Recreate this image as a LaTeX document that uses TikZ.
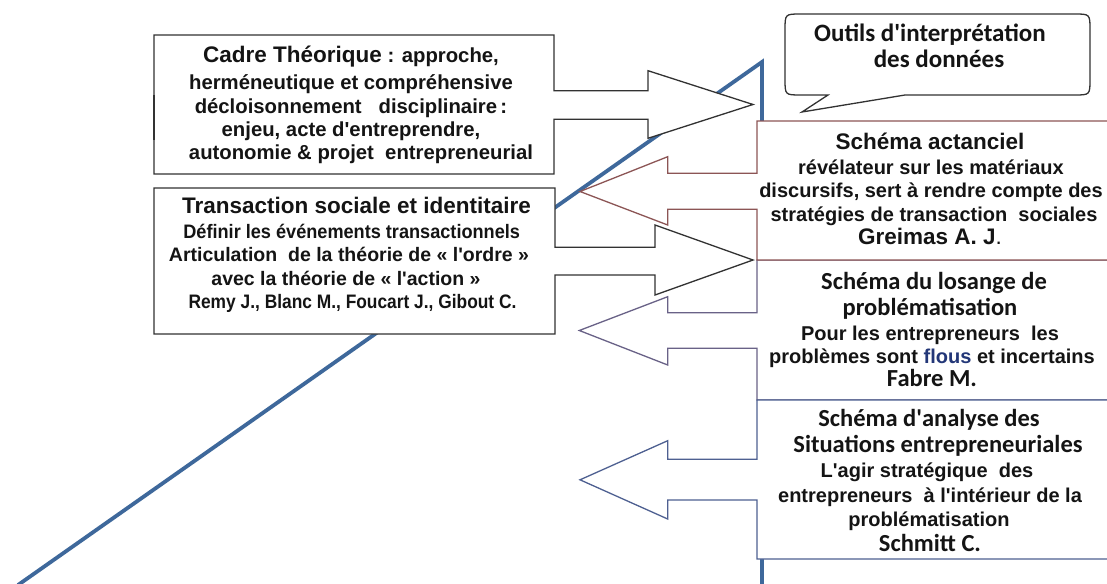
\documentclass[tikz,border=0pt]{standalone}
\usepackage{fontspec}
\setmainfont{Liberation Sans}
\newfontfamily\calib{Carlito}
\newcommand\apo{\textquotesingle}
\definecolor{blueline}{RGB}{62,104,155}
\definecolor{brownbox}{RGB}{140,85,85}
\definecolor{purplebox}{RGB}{105,98,135}
\definecolor{bluebox}{RGB}{78,96,145}
\definecolor{darkline}{RGB}{50,50,50}
\definecolor{flouscol}{RGB}{35,55,120}
\definecolor{inkcol}{RGB}{20,20,20}
\tikzset{
  outl/.style={line width=1.3pt, line join=miter, fill=white},
  txt/.style={inner sep=0pt, anchor=base, text=inkcol, font=\bfseries\fontsize{19.5}{24}\selectfont},
  ctx/.style={txt, font=\bfseries\fontsize{20.3}{24}\selectfont},
  rt/.style={txt, font=\bfseries\fontsize{20}{24}\selectfont},
  hd/.style={txt, font=\bfseries\fontsize{22.5}{26}\selectfont},
  ch/.style={txt, font=\calib\bfseries\fontsize{24.5}{28}\selectfont},
}
\begin{document}
\begin{tikzpicture}[x=1pt,y=-1pt]
\useasboundingbox (0,0) rectangle (1107,583);
\clip (0,0) rectangle (1107,583);
\fill[white] (0,0) rectangle (1107,583);
% blue axis
\draw[blueline, line width=3.8pt, line join=miter] (18,585) -- (762,62) -- (762,590);
% Cadre arrow
\draw[outl, draw=darkline] (154,35) -- (554,35) -- (554,90.7) -- (648,90.7) -- (648,70.7) -- (753,104.5) -- (648,138.3) -- (648,119.3) -- (554,119.3) -- (554,174) -- (154,174) -- cycle;
\draw[darkline, line width=2.5pt] (154,95) -- (154,140);
% Transaction arrow
\draw[outl, draw=darkline] (154,188) -- (555,188) -- (555,247.3) -- (655,247.3) -- (655,225) -- (753,260) -- (655,295) -- (655,275) -- (555,275) -- (555,334) -- (154,334) -- cycle;
% right boxes
\draw[outl, draw=purplebox] (1115,260) -- (757,260) -- (757,312.7) -- (667.7,312.7) -- (667.7,296.7) -- (579.3,330.5) -- (667.7,365) -- (667.7,348.3) -- (757,348.3) -- (757,400) -- (1115,400);
\draw[outl, draw=brownbox] (1115,121) -- (757,121) -- (757,173.3) -- (667.7,173.3) -- (667.7,156.7) -- (580,191.5) -- (667.7,225) -- (667.7,209.3) -- (757,209.3) -- (757,260) -- (1115,260);
\draw[outl, draw=bluebox] (1115,400) -- (757,400) -- (757,459.3) -- (667.7,459.3) -- (667.7,440.7) -- (580,479.8) -- (667.7,519) -- (667.7,500) -- (757,500) -- (757,559) -- (1115,559);
% bubble
\draw[outl, draw=darkline] (828,95) -- (801,95) .. controls (785,95) .. (785,79) -- (785,30) .. controls (785,14) .. (801,14) -- (1074,14) .. controls (1090,14) .. (1090,30) -- (1090,79) .. controls (1090,95) .. (1074,95) -- (905,95) -- (802,112) -- cycle;
% bubble text
\node[txt, font=\calib\bfseries\fontsize{25}{30}\selectfont] (o1) at (930,42) {Outils d\apo interprétation};
\node[txt, font=\calib\bfseries\fontsize{25}{30}\selectfont] (o2) at (939,68) {des données};
% Cadre text
\node[ctx] (c1) at (351,63) {{\fontsize{22.5}{26}\selectfont Cadre Théorique} : approche,};
\node[ctx] (c2) at (351,90) {herméneutique et compréhensive};
\node[ctx] (c3) at (351,113.3) {décloisonnement\ \ \ disciplinaire\,:};
\node[ctx] (c4) at (351,136.7) {enjeu, acte d\apo entreprendre,};
\node[ctx] (c5) at (361,159.3) {autonomie \& projet\ \ entrepreneurial};
% Transaction text
\node[hd] (t1) at (356.5,213.3) {Transaction sociale et identitaire};
\node[txt] (t2) at (351.7,238.3) {\scalebox{0.93}[1]{Définir les événements transactionnels}};
\node[txt] (t3) at (349,261.7) {Articulation\ \ de la théorie de « l\apo ordre »};
\node[txt] (t4) at (346,285) {avec la théorie de « l\apo action\ »};
\node[txt] (t5) at (352.5,308.3) {\scalebox{0.89}[1]{Remy J., Blanc M., Foucart J., Gibout C.}};
% Actanciel text
\node[hd] (a1) at (930,149) {Schéma actanciel};
\node[rt] (a2) at (931,174) {révélateur sur les matériaux};
\node[rt] (a3) at (931,197.5) {discursifs, sert à rendre compte des};
\node[rt] (a4) at (934,221) {stratégies de transaction\ \ sociales};
\node[hd] (a5) at (930,244) {Greimas A. J{\mdseries .}};
% Losange text
\node[ch] (l1) at (934,289) {Schéma du losange de};
\node[ch] (l2) at (930,315) {problématisation};
\node[rt] (l3) at (930,340) {Pour les entrepreneurs\ \ les};
\node[rt] (l4) at (932,363.5) {problèmes sont {\color{flouscol}flous} et incertains};
\node[ch] (l5) at (932,386) {Fabre M.};
% Schmitt text
\node[ch] (s1) at (929,426.5) {Schéma d\apo analyse des};
\node[ch] (s2) at (938,452) {Situations entrepreneuriales};
\node[rt] (s3) at (927,477.5) {L\apo agir stratégique\ \ des};
\node[rt] (s4) at (930,502) {entrepreneurs\ \ à l\apo intérieur de la};
\node[rt] (s5) at (929,526) {problématisation};
\node[ch] (s6) at (930,551) {Schmitt C.};
\end{tikzpicture}
\end{document}
